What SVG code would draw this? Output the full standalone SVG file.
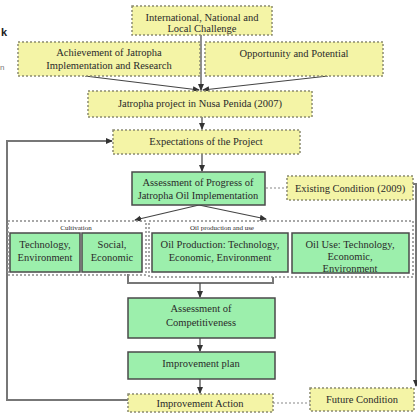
<svg xmlns="http://www.w3.org/2000/svg" width="417" height="414" viewBox="0 0 417 414">
  <defs>
    <marker id="arr" viewBox="0 0 8 8" refX="7" refY="4" markerWidth="7" markerHeight="7" orient="auto" markerUnits="userSpaceOnUse">
      <path d="M0,0.5 L8,4 L0,7.5 Z" fill="#333"/>
    </marker>
    <style>
      .yb { fill: #f4f4a6; stroke: #8a8a70; stroke-width: 1.5; stroke-dasharray: 2 2; }
      .gb { fill: #9cefac; stroke: #4a4a4a; stroke-width: 1.5; }
      .grp { fill: none; stroke: #8a8a8a; stroke-width: 1.5; stroke-dasharray: 2 2; }
      .t { font-family: "Liberation Serif", "Times New Roman", serif; font-size: 10.5px; fill: #2a2a2a; text-anchor: middle; }
      .s { font-family: "Liberation Serif", "Times New Roman", serif; font-size: 7px; fill: #2a2a2a; text-anchor: middle; }
      .ln { fill: none; stroke: #444; stroke-width: 1.2; }
      .fb { fill: none; stroke: #777; stroke-width: 2; }
      .dl { fill: none; stroke: #888; stroke-width: 1.2; stroke-dasharray: 2 2; }
    </style>
  </defs>
  <rect width="417" height="414" fill="#ffffff"/>

  <!-- fragments at the left edge -->
  <text x="1" y="36" font-family="Liberation Sans, Arial, sans-serif" font-size="11" font-weight="bold" fill="#222">k</text>
  <text x="0" y="70" font-family="Liberation Sans, Arial, sans-serif" font-size="8" fill="#777">n</text>

  <!-- connectors -->
  <g id="connectors">
    <line class="ln" x1="201" y1="35" x2="201" y2="90" marker-end="url(#arr)"/>
    <line class="ln" x1="85" y1="76" x2="199" y2="90" marker-end="url(#arr)"/>
    <line class="ln" x1="328" y1="76" x2="203" y2="90" marker-end="url(#arr)"/>
    <line class="ln" x1="202" y1="117" x2="202" y2="129" marker-end="url(#arr)"/>
    <line class="ln" x1="202" y1="154" x2="202" y2="171" marker-end="url(#arr)"/>
    <line class="ln" x1="199" y1="205" x2="135" y2="220" marker-end="url(#arr)"/>
    <line class="ln" x1="199" y1="205" x2="266" y2="219" marker-end="url(#arr)"/>
    <line class="dl" x1="266" y1="188" x2="287" y2="188"/>
    <polyline class="fb" points="128,274 128,283 273,283 273,277"/>
    <line class="ln" x1="200" y1="283" x2="200" y2="297" marker-end="url(#arr)"/>
    <line class="ln" x1="200" y1="338" x2="200" y2="351" marker-end="url(#arr)"/>
    <line class="ln" x1="200" y1="379" x2="200" y2="393" marker-end="url(#arr)"/>
    <line class="dl" x1="273" y1="403" x2="310" y2="403"/>
    <polyline class="fb" points="128,400 7,400 7,141 112,141" marker-end="url(#arr)"/>
    <polyline class="fb" points="413,184 416,184 416,386" marker-end="url(#arr)"/>
  </g>

  <!-- group frames -->
  <g id="cultivation-group">
    <rect class="grp" x="8" y="221" width="138" height="54"/>
    <text class="s" x="76" y="230">Cultivation</text>
  </g>
  <g id="oil-group">
    <rect class="grp" x="149" y="221" width="264" height="56"/>
    <text class="s" x="222" y="230">Oil production and use</text>
  </g>

  <!-- nodes -->
  <g id="challenge">
    <rect class="yb" x="132" y="6" width="140" height="29"/>
    <text class="t" x="202" y="21">International, National and</text>
    <text class="t" x="202" y="32">Local Challenge</text>
  </g>
  <g id="achievement">
    <rect class="yb" x="18" y="42" width="182" height="34"/>
    <text class="t" x="109" y="56">Achievement of Jatropha</text>
    <text class="t" x="109" y="69">Implementation and Research</text>
  </g>
  <g id="opportunity">
    <rect class="yb" x="205" y="42" width="178" height="34"/>
    <text class="t" x="294" y="57">Opportunity and Potential</text>
  </g>
  <g id="project">
    <rect class="yb" x="88" y="91" width="224" height="26"/>
    <text class="t" x="200" y="107">Jatropha project in Nusa Penida (2007)</text>
  </g>
  <g id="expectations">
    <rect class="yb" x="113" y="130" width="187" height="24"/>
    <text class="t" x="206" y="145">Expectations of the Project</text>
  </g>
  <g id="assessment-progress">
    <rect class="gb" x="132" y="172" width="133" height="33"/>
    <text class="t" x="198" y="186">Assessment of Progress of</text>
    <text class="t" x="198" y="199">Jatropha Oil Implementation</text>
  </g>
  <g id="existing">
    <rect class="yb" x="287" y="176" width="126" height="24"/>
    <text class="t" x="350" y="192">Existing Condition (2009)</text>
  </g>
  <g id="tech-env">
    <rect class="gb" x="10" y="233" width="70" height="39"/>
    <text class="t" x="45" y="248">Technology,</text>
    <text class="t" x="45" y="261">Environment</text>
  </g>
  <g id="social-econ">
    <rect class="gb" x="82" y="233" width="60" height="39"/>
    <text class="t" x="112" y="248">Social,</text>
    <text class="t" x="112" y="261">Economic</text>
  </g>
  <g id="oil-production">
    <rect class="gb" x="152" y="233" width="136" height="39"/>
    <text class="t" x="220" y="248">Oil Production: Technology,</text>
    <text class="t" x="220" y="261">Economic, Environment</text>
  </g>
  <g id="oil-use">
    <rect class="gb" x="292" y="233" width="117" height="40"/>
    <text class="t" x="350" y="248">Oil Use: Technology,</text>
    <text class="t" x="350" y="260">Economic,</text>
    <text class="t" x="350" y="272">Environment</text>
  </g>
  <g id="competitiveness">
    <rect class="gb" x="128" y="298" width="147" height="40"/>
    <text class="t" x="201" y="312">Assessment of</text>
    <text class="t" x="201" y="326">Competitiveness</text>
  </g>
  <g id="improvement-plan">
    <rect class="gb" x="128" y="352" width="147" height="27"/>
    <text class="t" x="201" y="367">Improvement plan</text>
  </g>
  <g id="improvement-action">
    <rect class="yb" x="128" y="394" width="145" height="18"/>
    <text class="t" x="200" y="407">Improvement Action</text>
  </g>
  <g id="future">
    <rect class="yb" x="310" y="388" width="104" height="23"/>
    <text class="t" x="362" y="403">Future Condition</text>
  </g>
</svg>
